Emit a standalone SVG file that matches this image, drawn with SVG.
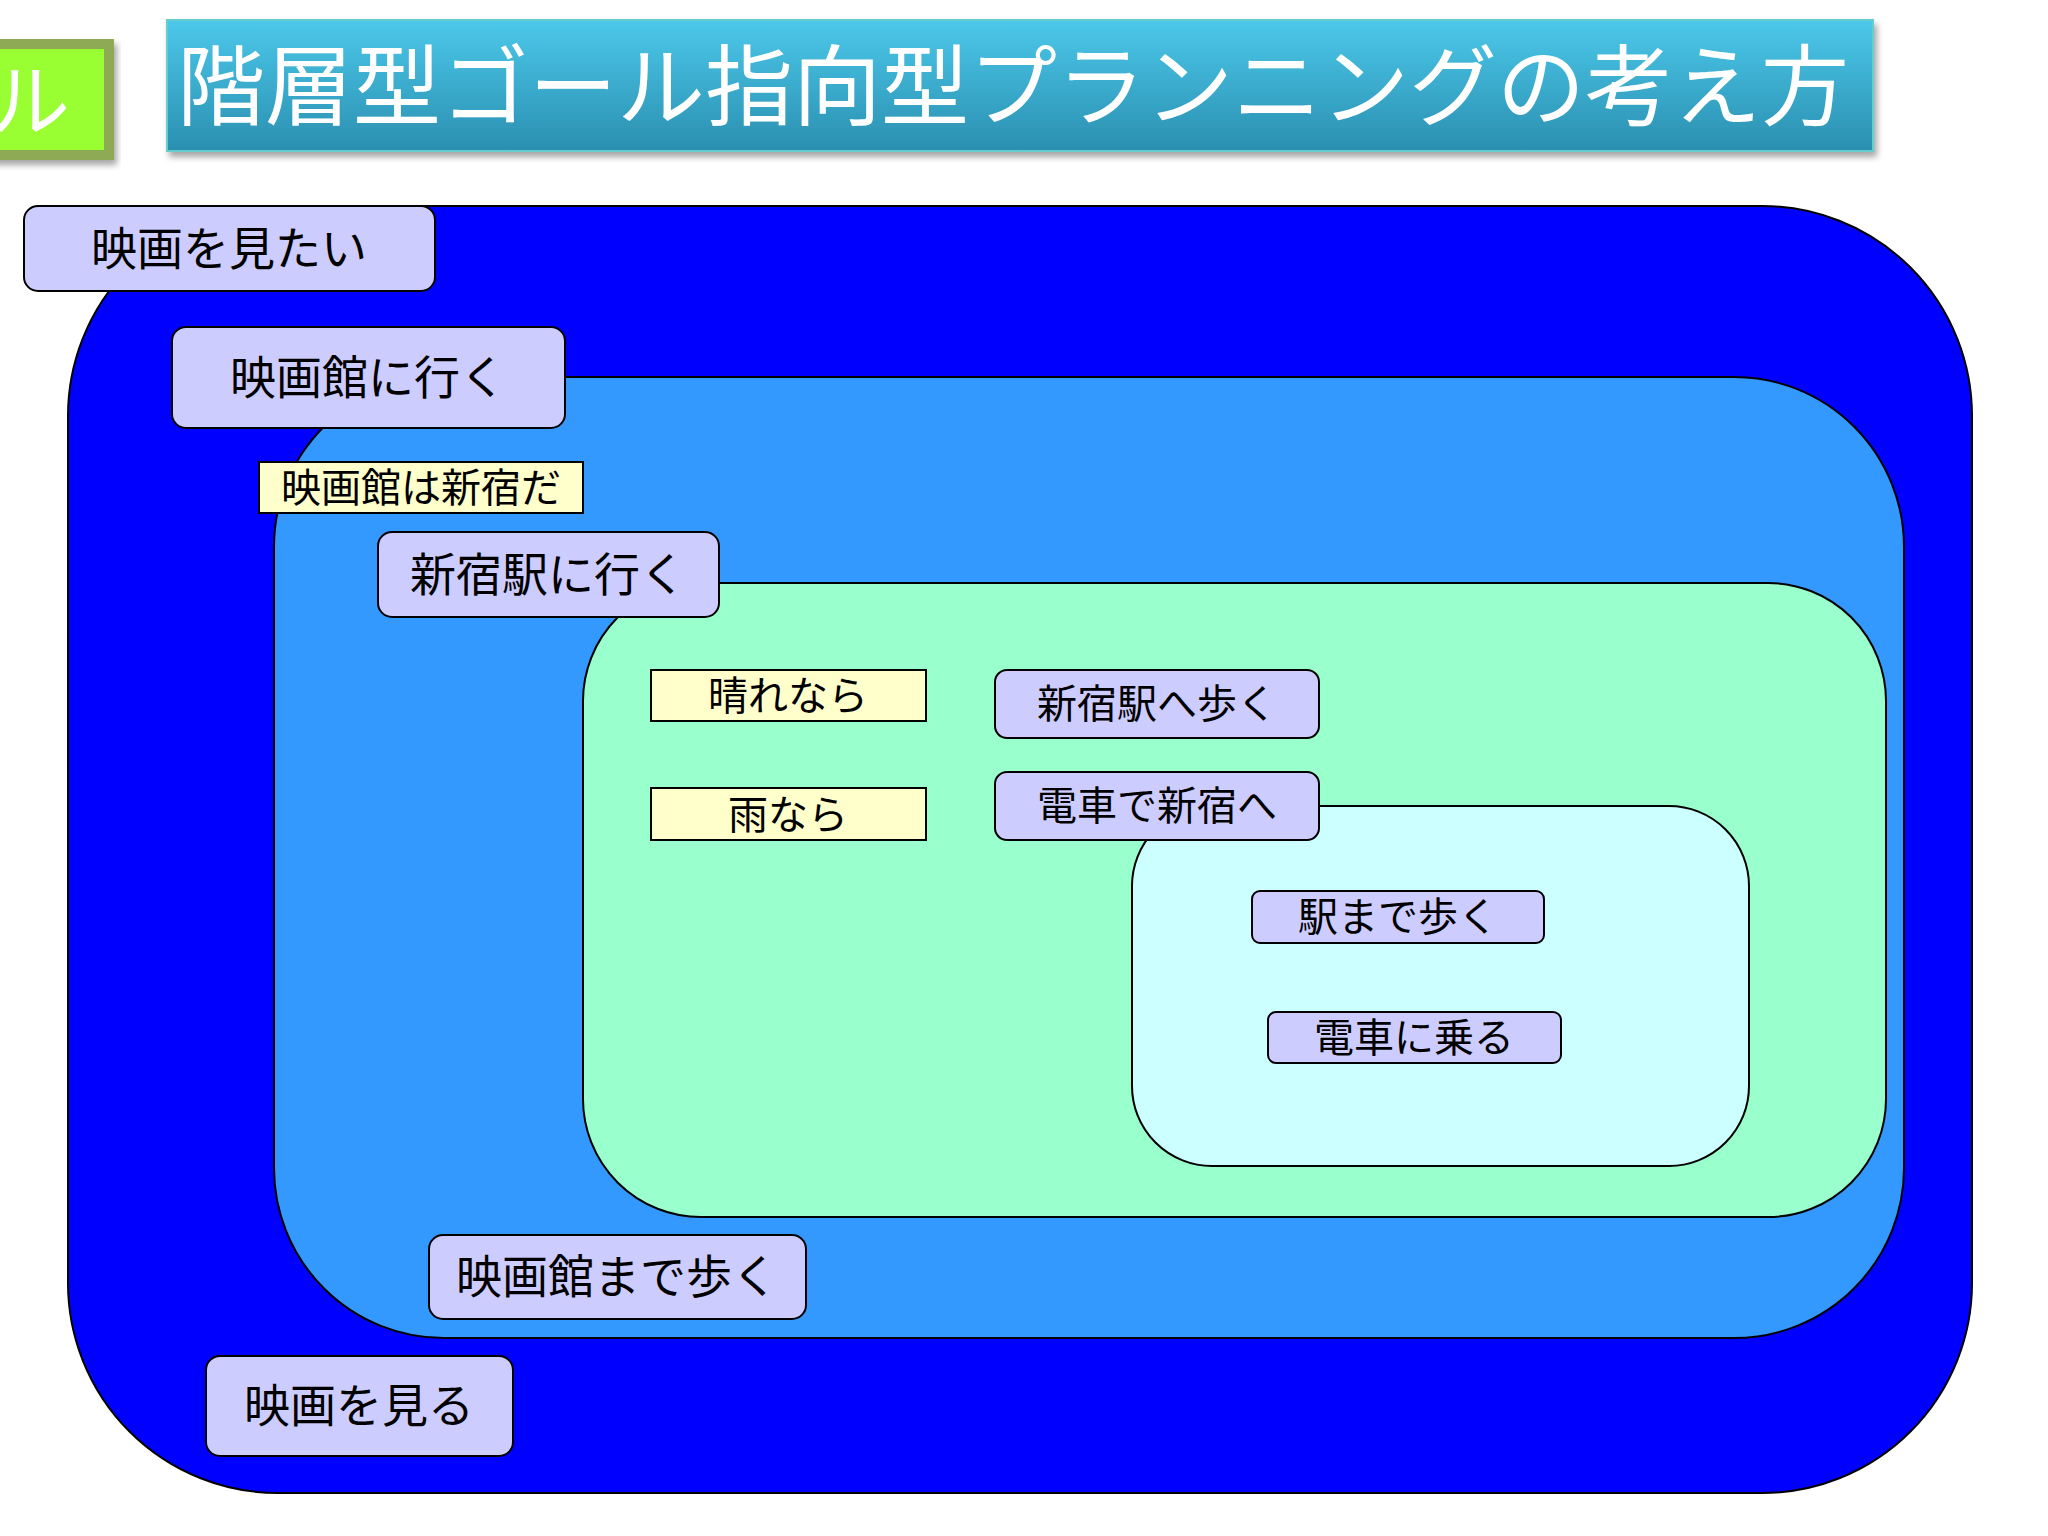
<svg xmlns="http://www.w3.org/2000/svg" width="2048" height="1536" viewBox="0 0 2048 1536">
<defs>
<linearGradient id="tg" x1="0" y1="0" x2="0" y2="1"><stop offset="0" stop-color="#4cc8ea"/><stop offset="1" stop-color="#2a8fb0"/></linearGradient>
<filter id="sh" x="-5%" y="-10%" width="110%" height="130%"><feDropShadow dx="3" dy="5" stdDeviation="3" flood-opacity="0.35"/></filter>
</defs>
<style>
text{font-family:"Noto Sans CJK JP","Liberation Sans",sans-serif;text-anchor:middle}
.n{fill:#ccccff;stroke:#000;stroke-width:2}
.y{fill:#ffffcc;stroke:#000;stroke-width:2}
.t{font-size:46px;fill:#000}
.s{font-size:40px;fill:#000}
</style>
<rect width="2048" height="1536" fill="#fff"/>
<g id="tab"><rect x="-10" y="39" width="124" height="121" fill="#8faa55" filter="url(#sh)"/><rect x="-10" y="49" width="114" height="101" fill="#99ff33"/><text x="30" y="130" font-size="80" fill="#fff">ル</text></g>
<g id="title"><rect x="167" y="20" width="1706" height="131" fill="url(#tg)" stroke="#6cc" stroke-width="2" filter="url(#sh)"/><text x="1013" y="118" font-size="88" fill="#fff">階層型ゴール指向型プランニングの考え方</text></g>
<g id="c1"><rect x="68" y="206" width="1904" height="1287" rx="210" fill="#0000ff" stroke="#000" stroke-width="2"/></g>
<g id="c2"><rect x="274" y="377" width="1630" height="961" rx="170" fill="#3399ff" stroke="#000" stroke-width="2"/></g>
<g id="c3"><rect x="583" y="583" width="1303" height="634" rx="118" fill="#99ffcc" stroke="#000" stroke-width="2"/></g>
<g id="c4"><rect x="1132" y="806" width="617" height="360" rx="80" fill="#ccffff" stroke="#000" stroke-width="2"/></g>
<g id="connectors"></g>
<g id="n1"><rect class="n" x="24" y="206" width="411" height="85" rx="14"/><text class="t" x="229" y="265">映画を見たい</text></g>
<g id="n2"><rect class="n" x="172" y="327" width="393" height="101" rx="14"/><text class="t" x="368" y="394">映画館に行く</text></g>
<g id="n3"><rect class="y" x="259" y="462" width="324" height="51"/><text class="s" x="421" y="502">映画館は新宿だ</text></g>
<g id="n4"><rect class="n" x="378" y="532" width="341" height="85" rx="14"/><text class="t" x="548" y="591">新宿駅に行く</text></g>
<g id="n5"><rect class="y" x="651" y="670" width="275" height="51"/><text class="s" x="788" y="710">晴れなら</text></g>
<g id="n6"><rect class="y" x="651" y="788" width="275" height="52"/><text class="s" x="788" y="829">雨なら</text></g>
<g id="n7"><rect class="n" x="995" y="670" width="324" height="68" rx="12"/><text class="s" x="1157" y="718">新宿駅へ歩く</text></g>
<g id="n8"><rect class="n" x="995" y="772" width="324" height="68" rx="12"/><text class="s" x="1157" y="820">電車で新宿へ</text></g>
<g id="n9"><rect class="n" x="1252" y="891" width="292" height="52" rx="8"/><text class="s" x="1398" y="931">駅まで歩く</text></g>
<g id="n10"><rect class="n" x="1268" y="1012" width="293" height="51" rx="8"/><text class="s" x="1414" y="1052">電車に乗る</text></g>
<g id="n11"><rect class="n" x="429" y="1235" width="377" height="84" rx="14"/><text class="t" x="617" y="1293">映画館まで歩く</text></g>
<g id="n12"><rect class="n" x="206" y="1356" width="307" height="100" rx="14"/><text class="t" x="359" y="1422">映画を見る</text></g>
</svg>
